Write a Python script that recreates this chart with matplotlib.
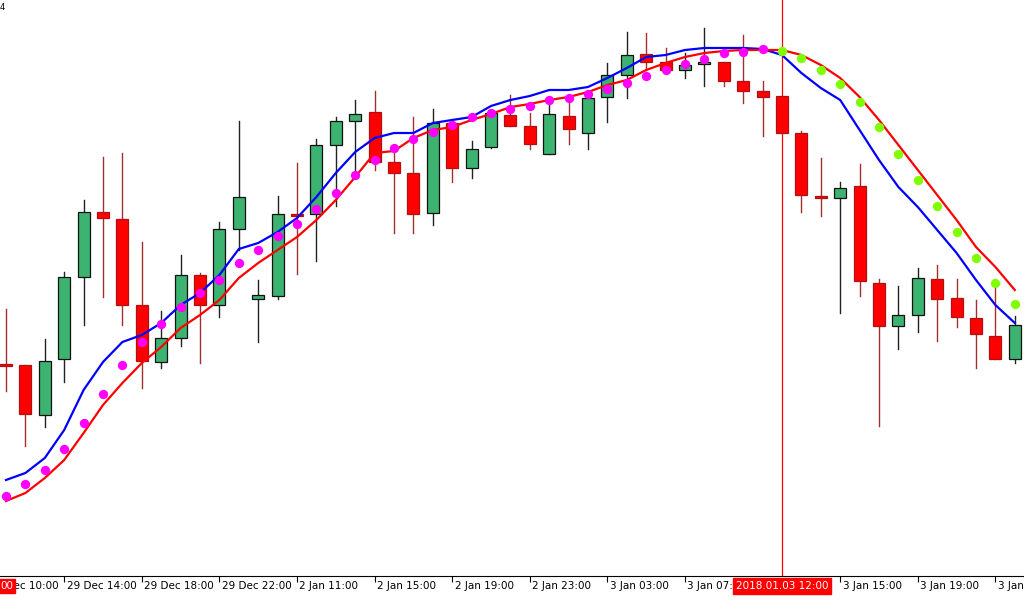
import matplotlib
matplotlib.use("Agg")
import matplotlib.pyplot as plt
import numpy as np

# chart levels (screen rows, axis is inverted)
opens  = [364, 365, 415, 359, 277, 212, 219, 305, 362, 338, 275, 305, 229, 299, 296, 214, 214, 145,
          121, 112, 162, 173, 213, 123, 168, 147, 115, 126, 154, 116, 133, 97, 75, 54, 62, 70,
          64, 62, 81, 91, 96, 133, 196, 198, 186, 283, 326, 315, 279, 298, 318, 336, 359]
highs  = [309, 365, 339, 272, 200, 157, 153, 242, 311, 255, 273, 222, 121, 280, 196, 163, 139, 117,
          100, 91, 147, 117, 109, 119, 141, 113, 95, 113, 103, 103, 92, 63, 32, 33, 48, 53,
          28, 62, 35, 81, 96, 131, 158, 182, 164, 279, 286, 268, 265, 279, 300, 287, 316]
lows   = [391, 446, 427, 382, 325, 297, 325, 388, 368, 346, 363, 317, 250, 342, 299, 274, 261, 206,
          172, 170, 233, 233, 225, 182, 178, 148, 126, 149, 154, 144, 149, 122, 98, 70, 70, 78,
          86, 86, 103, 136, 133, 212, 216, 313, 296, 426, 349, 332, 341, 327, 368, 359, 363]
closes = [364, 414, 361, 277, 212, 218, 305, 361, 338, 275, 305, 229, 197, 295, 214, 215, 145, 121,
          114, 162, 173, 214, 123, 168, 149, 113, 126, 144, 114, 129, 98, 75, 55, 62, 70, 65,
          62, 81, 91, 97, 133, 195, 197, 188, 281, 326, 315, 278, 299, 317, 334, 359, 325]

ma_fast = [480, 473, 458, 430, 390, 362, 342, 335, 323, 305, 293, 275, 249, 243, 232, 218, 197, 173,
           152, 138, 133, 133, 123, 120, 117, 106, 100, 96, 90, 90, 87, 78, 68, 57, 55, 50,
           48, 48, 48, 49, 55, 73, 88, 100, 130, 160, 187, 207, 230, 253, 280, 305, 323]
ma_slow = [501, 493, 478, 460, 433, 405, 383, 363, 347, 328, 315, 300, 278, 263, 250, 237, 220, 200,
           177, 153, 151, 138, 130, 127, 120, 114, 107, 104, 100, 97, 92, 85, 80, 70, 63, 57,
           53, 51, 50, 50, 50, 55, 65, 78, 97, 120, 145, 170, 195, 220, 247, 267, 290]
dots    = [496, 484, 470, 449, 423, 394, 365, 342, 324, 307, 293, 280, 263, 250, 236, 224, 209, 193,
           175, 160, 148, 139, 132, 125, 117, 113, 109, 106, 100, 98, 94, 89, 83, 76, 70, 64,
           59, 53, 52, 49, 51, 58, 70, 84, 102, 127, 154, 180, 206, 232, 258, 283, 304]
dot_turn = 40  # first bar of the down-trend dots

tick_bars = [-1, 3, 7, 11, 15, 19, 23, 27, 31, 35, 43, 47, 51]
tick_labels = ["29 Dec 10:00", "29 Dec 14:00", "29 Dec 18:00", "29 Dec 22:00", "2 Jan 11:00",
               "2 Jan 15:00", "2 Jan 19:00", "2 Jan 23:00", "3 Jan 03:00", "3 Jan 07:00",
               "3 Jan 15:00", "3 Jan 19:00", "3 Jan 23:00"]
cursor_bar = 40
cursor_label = "2018.01.03 12:00"


def main():
    fig = plt.figure(figsize=(10.24, 6.0), dpi=100)
    ax = fig.add_axes([0, 0.04, 1, 0.96])
    font = ["Liberation Sans Narrow", "DejaVu Sans"]

    idx = np.arange(len(opens))
    w = 0.62
    for i in idx:
        o, h, l, c = opens[i], highs[i], lows[i], closes[i]
        bull = c < o  # screen rows: smaller is higher
        wick = "#222222" if bull else "#A03030"
        body = "#3CB371" if bull else "#FF0000"
        edge = "#111111" if bull else "#B01010"
        ax.plot([i, i], [h, l], color=wick, lw=1.0, zorder=2)
        top, bot = min(o, c), max(o, c)
        hgt = max(bot - top, 1.5)
        ax.add_patch(plt.Rectangle((i - w / 2, top), w, hgt, facecolor=body,
                                   edgecolor=edge, lw=0.9, zorder=3))

    ax.plot(idx, ma_fast, color="#0000FF", lw=1.6, zorder=4)
    ax.plot(idx[:len(ma_slow)], ma_slow, color="#FF0000", lw=1.6, zorder=4)
    d = np.array(dots)
    ax.scatter(idx[:dot_turn], d[:dot_turn], s=45, color="#FF00FF", zorder=5, lw=0)
    ax.scatter(idx[dot_turn:], d[dot_turn:], s=45, color="#7FFF00", zorder=5, lw=0)

    ax.axvline(cursor_bar, color="#FF0000", lw=0.9, zorder=1)

    ax.set_yticks([])
    for s in ["left", "right", "top"]:
        ax.spines[s].set_visible(False)
    ax.spines["bottom"].set_color("black")
    ax.set_xticks(tick_bars)
    ax.set_xticklabels([])
    ax.tick_params(axis="x", direction="out", length=4, width=0.8)

    # limits after the ticks, otherwise the -1 tick widens the view
    step = 19.4
    ax.set_xlim(-6 / step, (1024 - 6) / step)
    ax.set_ylim(576, 0)

    for b, lab in zip(tick_bars, tick_labels):
        ax.text(b + 0.12, 586, lab, fontsize=7.5, family=font, ha="left", va="center",
                clip_on=False, zorder=1)
    ax.text(cursor_bar, 586, cursor_label, fontsize=7.5, family=font, color="white",
            ha="center", va="center", clip_on=False, zorder=7,
            bbox=dict(facecolor="#FF0000", edgecolor="#FF0000", pad=2.0))
    ax.text(-6 / step, 586, "00", fontsize=7.5, family=font, color="white",
            ha="left", va="center", clip_on=False, zorder=7,
            bbox=dict(facecolor="#FF0000", edgecolor="#FF0000", pad=1.5))
    ax.text(-6 / step, 8, "4", fontsize=6, family=font, ha="left", va="center")

    fig.savefig("out.png", dpi=100, facecolor="white")


if __name__ == "__main__":
    main()
